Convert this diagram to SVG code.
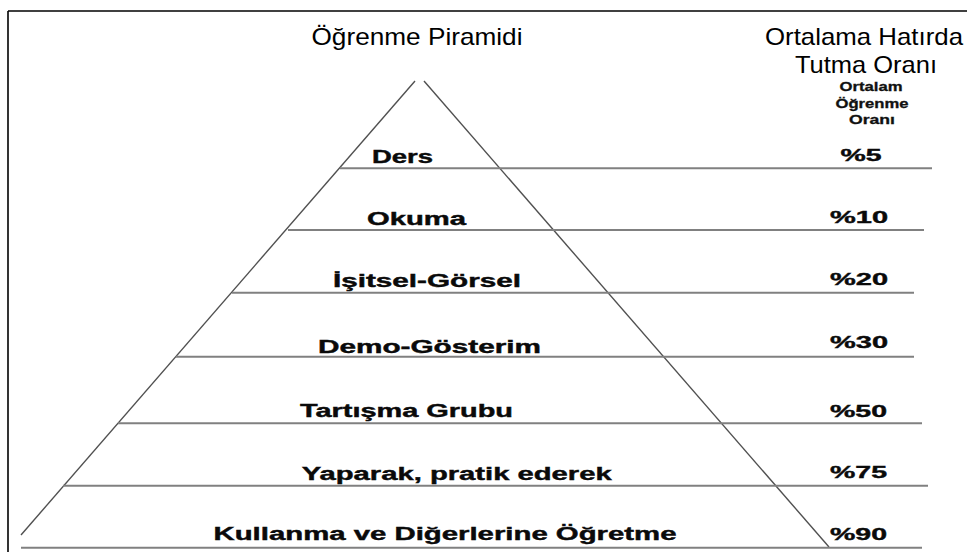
<svg xmlns="http://www.w3.org/2000/svg" width="967" height="552" viewBox="0 0 967 552">
<style>
.title{font-family:"Liberation Sans",Arial,sans-serif;font-size:24px;fill:#000;text-anchor:middle}
.small{font-family:"Liberation Sans",Arial,sans-serif;font-size:12.5px;font-weight:bold;fill:#111;stroke:#111;stroke-width:0.3;text-anchor:middle}
.lbl{font-family:"Liberation Sans",Arial,sans-serif;font-size:17.5px;font-weight:bold;fill:#0a0a0a;stroke:#0a0a0a;stroke-width:0.4;text-anchor:middle}
.pct{font-family:"Liberation Sans",Arial,sans-serif;font-size:17px;font-weight:bold;fill:#0a0a0a;stroke:#0a0a0a;stroke-width:0.4;text-anchor:middle}
.h{stroke:#808080;stroke-width:2;fill:none}
.s{stroke:#505050;stroke-width:1.4;fill:none}
.b{stroke:#000;stroke-width:1.6;fill:none}
</style>
<rect x="0" y="0" width="967" height="552" fill="#fff"/>
<g id="frame">
<line class="b" x1="8" y1="11" x2="967" y2="11"/>
<line class="b" x1="8" y1="11" x2="8" y2="552"/>
</g>
<g id="headers">
<text class="title" x="417" y="45" textLength="211" lengthAdjust="spacingAndGlyphs">Öğrenme Piramidi</text>
<text class="title" x="864" y="45" textLength="198" lengthAdjust="spacingAndGlyphs">Ortalama Hatırda</text>
<text class="title" x="866" y="73" textLength="142" lengthAdjust="spacingAndGlyphs">Tutma Oranı</text>
<text class="small" x="871" y="91" textLength="63" lengthAdjust="spacingAndGlyphs">Ortalam</text>
<text class="small" x="872" y="107.5" textLength="73" lengthAdjust="spacingAndGlyphs">Öğrenme</text>
<text class="small" x="872" y="124" textLength="46" lengthAdjust="spacingAndGlyphs">Oranı</text>
</g>
<g id="connectors">
<line class="s" x1="415" y1="81" x2="21" y2="535"/>
<line class="s" x1="424" y1="81" x2="829" y2="547"/>
<line class="h" x1="340" y1="168.3" x2="932" y2="168.3"/>
<line class="h" x1="288" y1="230" x2="924" y2="230"/>
<line class="h" x1="232" y1="292.7" x2="914" y2="292.7"/>
<line class="h" x1="176" y1="356.7" x2="914" y2="356.7"/>
<line class="h" x1="118" y1="423.3" x2="922" y2="423.3"/>
<line class="h" x1="63" y1="485.7" x2="928" y2="485.7"/>
<line class="h" x1="21" y1="547.7" x2="922" y2="547.7"/>
</g>
<g id="level-1"><text class="lbl" x="402.5" y="163" textLength="61" lengthAdjust="spacingAndGlyphs">Ders</text><text class="pct" x="861" y="160.5" textLength="41" lengthAdjust="spacingAndGlyphs">%5</text></g>
<g id="level-2"><text class="lbl" x="416.5" y="225" textLength="99" lengthAdjust="spacingAndGlyphs">Okuma</text><text class="pct" x="859" y="222.7" textLength="58" lengthAdjust="spacingAndGlyphs">%10</text></g>
<g id="level-3"><text class="lbl" x="427" y="286.7" textLength="188" lengthAdjust="spacingAndGlyphs">İşitsel-Görsel</text><text class="pct" x="859" y="285" textLength="58" lengthAdjust="spacingAndGlyphs">%20</text></g>
<g id="level-4"><text class="lbl" x="429.5" y="352.5" textLength="223" lengthAdjust="spacingAndGlyphs">Demo-Gösterim</text><text class="pct" x="859" y="348.3" textLength="58" lengthAdjust="spacingAndGlyphs">%30</text></g>
<g id="level-5"><text class="lbl" x="406.5" y="417.3" textLength="213" lengthAdjust="spacingAndGlyphs">Tartışma Grubu</text><text class="pct" x="858.5" y="416.7" textLength="57" lengthAdjust="spacingAndGlyphs">%50</text></g>
<g id="level-6"><text class="lbl" x="456.7" y="480" textLength="310" lengthAdjust="spacingAndGlyphs">Yaparak, pratik ederek</text><text class="pct" x="858.5" y="478.3" textLength="57" lengthAdjust="spacingAndGlyphs">%75</text></g>
<g id="level-7"><text class="lbl" x="445" y="540" textLength="463" lengthAdjust="spacingAndGlyphs">Kullanma ve Diğerlerine Öğretme</text><text class="pct" x="858.5" y="540" textLength="57" lengthAdjust="spacingAndGlyphs">%90</text></g>
</svg>
